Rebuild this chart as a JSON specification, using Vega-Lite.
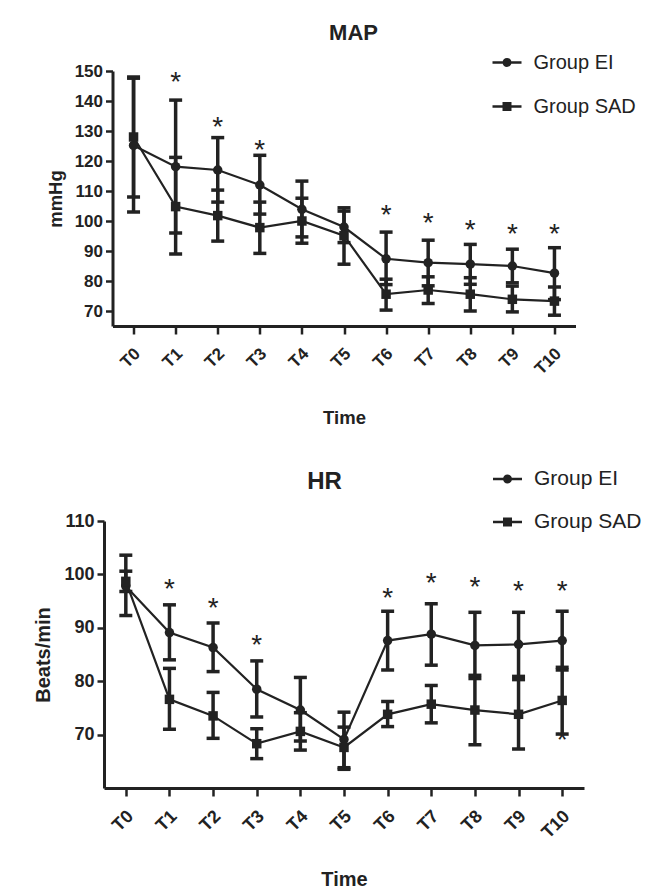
{
  "$schema": "https://vega.github.io/schema/vega-lite/v6.json",
  "padding": {"left": 33, "top": 22, "right": 5, "bottom": 2},
  "bounds": "flush",
  "center": true,
  "spacing": 195,
  "resolve": {"scale": {"shape": "independent"}, "legend": {"shape": "independent"}},
  "config": {
    "view": {"stroke": null},
    "font": "Liberation Sans",
    "axis": {"domainColor": "#222", "domainWidth": 3, "tickColor": "#222", "tickWidth": 2.5, "tickSize": 7, "labelOverlap": false, "labelFont": "Liberation Sans", "labelFontWeight": "bold", "labelColor": "#222", "titleFont": "Liberation Sans", "titleFontWeight": "bold", "titleColor": "#222", "grid": false},
    "legend": {"labelFont": "Liberation Sans", "labelColor": "#222"},
    "title": {"font": "Liberation Sans", "fontWeight": "bold", "color": "#222"}
  },
  "datasets": {
    "map": [
      {"time": "T0", "group": "Group EI", "mean": 125.2, "lo": 103.0, "hi": 147.6},
      {"time": "T0", "group": "Group SAD", "mean": 128.0, "lo": 108.0, "hi": 148.0},
      {"time": "T1", "group": "Group EI", "mean": 118.1, "lo": 96.0, "hi": 140.3},
      {"time": "T1", "group": "Group SAD", "mean": 104.8, "lo": 89.0, "hi": 121.2},
      {"time": "T2", "group": "Group EI", "mean": 117.0, "lo": 106.3, "hi": 127.8},
      {"time": "T2", "group": "Group SAD", "mean": 101.8, "lo": 93.3, "hi": 110.3},
      {"time": "T3", "group": "Group EI", "mean": 112.0, "lo": 102.3, "hi": 121.9},
      {"time": "T3", "group": "Group SAD", "mean": 97.8, "lo": 89.2, "hi": 106.3},
      {"time": "T4", "group": "Group EI", "mean": 103.9, "lo": 94.7, "hi": 113.3},
      {"time": "T4", "group": "Group SAD", "mean": 100.0, "lo": 92.6, "hi": 107.6},
      {"time": "T5", "group": "Group EI", "mean": 98.0, "lo": 92.8, "hi": 103.3},
      {"time": "T5", "group": "Group SAD", "mean": 95.1, "lo": 85.6, "hi": 104.4},
      {"time": "T6", "group": "Group EI", "mean": 87.4, "lo": 78.8, "hi": 96.3},
      {"time": "T6", "group": "Group SAD", "mean": 75.6, "lo": 70.3, "hi": 80.6},
      {"time": "T7", "group": "Group EI", "mean": 86.1, "lo": 78.4, "hi": 93.6},
      {"time": "T7", "group": "Group SAD", "mean": 77.0, "lo": 72.5, "hi": 81.4},
      {"time": "T8", "group": "Group EI", "mean": 85.6, "lo": 78.9, "hi": 92.2},
      {"time": "T8", "group": "Group SAD", "mean": 75.6, "lo": 70.0, "hi": 81.1},
      {"time": "T9", "group": "Group EI", "mean": 85.0, "lo": 79.4, "hi": 90.6},
      {"time": "T9", "group": "Group SAD", "mean": 73.9, "lo": 69.7, "hi": 78.3},
      {"time": "T10", "group": "Group EI", "mean": 82.6, "lo": 73.8, "hi": 91.1},
      {"time": "T10", "group": "Group SAD", "mean": 73.3, "lo": 68.6, "hi": 78.0}
    ],
    "mapstars": [
      {"time": "T1", "star": 148.1},
      {"time": "T2", "star": 133.1},
      {"time": "T3", "star": 125.3},
      {"time": "T6", "star": 103.7},
      {"time": "T7", "star": 100.9},
      {"time": "T8", "star": 98.7},
      {"time": "T9", "star": 97.4},
      {"time": "T10", "star": 97.4}
    ],
    "hr": [
      {"time": "T0", "group": "Group EI", "mean": 97.8, "lo": 92.3, "hi": 103.6},
      {"time": "T0", "group": "Group SAD", "mean": 98.7, "lo": 96.8, "hi": 100.6},
      {"time": "T1", "group": "Group EI", "mean": 89.1, "lo": 84.0, "hi": 94.3},
      {"time": "T1", "group": "Group SAD", "mean": 76.6, "lo": 71.0, "hi": 82.4},
      {"time": "T2", "group": "Group EI", "mean": 86.3, "lo": 81.8, "hi": 90.9},
      {"time": "T2", "group": "Group SAD", "mean": 73.5, "lo": 69.3, "hi": 77.9},
      {"time": "T3", "group": "Group EI", "mean": 78.5, "lo": 73.3, "hi": 83.8},
      {"time": "T3", "group": "Group SAD", "mean": 68.3, "lo": 65.5, "hi": 71.1},
      {"time": "T4", "group": "Group EI", "mean": 74.6, "lo": 68.8, "hi": 80.7},
      {"time": "T4", "group": "Group SAD", "mean": 70.6, "lo": 67.1, "hi": 74.1},
      {"time": "T5", "group": "Group EI", "mean": 69.1, "lo": 63.8, "hi": 74.2},
      {"time": "T5", "group": "Group SAD", "mean": 67.6, "lo": 63.5, "hi": 71.4},
      {"time": "T6", "group": "Group EI", "mean": 87.6, "lo": 82.1, "hi": 93.1},
      {"time": "T6", "group": "Group SAD", "mean": 73.8, "lo": 71.5, "hi": 76.2},
      {"time": "T7", "group": "Group EI", "mean": 88.8, "lo": 83.0, "hi": 94.5},
      {"time": "T7", "group": "Group SAD", "mean": 75.7, "lo": 72.2, "hi": 79.2},
      {"time": "T8", "group": "Group EI", "mean": 86.7, "lo": 80.5, "hi": 92.9},
      {"time": "T8", "group": "Group SAD", "mean": 74.6, "lo": 68.1, "hi": 81.1},
      {"time": "T9", "group": "Group EI", "mean": 86.9, "lo": 80.9, "hi": 92.9},
      {"time": "T9", "group": "Group SAD", "mean": 73.8, "lo": 67.3, "hi": 80.3},
      {"time": "T10", "group": "Group EI", "mean": 87.6, "lo": 82.1, "hi": 93.1},
      {"time": "T10", "group": "Group SAD", "mean": 76.4, "lo": 70.1, "hi": 82.6}
    ],
    "hrstars": [
      {"time": "T1", "star": 98.2},
      {"time": "T2", "star": 94.7},
      {"time": "T3", "star": 87.8},
      {"time": "T6", "star": 96.5},
      {"time": "T7", "star": 99.3},
      {"time": "T8", "star": 98.5},
      {"time": "T9", "star": 97.9},
      {"time": "T10", "star": 97.9},
      {"time": "T10", "star": 69.9}
    ]
  },
  "vconcat": [
    {
      "width": 463,
      "height": 255,
      "title": {"text": "MAP", "fontSize": 22, "frame": "group", "anchor": "middle", "dx": 9.5, "dy": 1},
      "data": {"name": "map"},
      "resolve": {"scale": {"shape": "independent"}, "legend": {"shape": "independent"}},
      "encoding": {
        "x": {"field": "time", "type": "ordinal", "sort": ["T0","T1","T2","T3","T4","T5","T6","T7","T8","T9","T10"], "scale": {"type": "point", "padding": 0.5},
          "axis": {"title": "Time", "labelAngle": -45, "labelFontSize": 17, "tickSize": 8, "labelPadding": 11, "labelOffset": -2, "titleFontSize": 18.5, "titleX": 231.5, "titleY": 91, "titleBaseline": "middle", "titleAlign": "center"}}
      },
      "layer": [
        {
          "mark": {"type": "rule", "strokeWidth": 3.5, "color": "#222"},
          "encoding": {
            "y": {"field": "lo", "type": "quantitative", "title": "mmHg", "scale": {"domain": [65, 150], "nice": false, "zero": false},
              "axis": {"values": [70, 80, 90, 100, 110, 120, 130, 140, 150], "tickCount": 9, "labelOverlap": false, "labelFontSize": 17, "labelPadding": 3, "titleFontSize": 18.5, "titleAngle": -90, "titleX": -57.5, "titleY": 127.5, "titleBaseline": "middle", "titleAlign": "center"}},
            "y2": {"field": "hi"}
          }
        },
        {
          "mark": {"type": "tick", "size": 13, "thickness": 3.5, "color": "#222", "opacity": 1},
          "encoding": {"y": {"field": "lo", "type": "quantitative", "title": "mmHg", "axis": {"values": [70, 80, 90, 100, 110, 120, 130, 140, 150], "tickCount": 9, "labelOverlap": false}}}
        },
        {
          "mark": {"type": "tick", "size": 13, "thickness": 3.5, "color": "#222", "opacity": 1},
          "encoding": {"y": {"field": "hi", "type": "quantitative", "title": "mmHg", "axis": {"values": [70, 80, 90, 100, 110, 120, 130, 140, 150], "tickCount": 9, "labelOverlap": false}}}
        },
        {
          "mark": {"type": "line", "strokeWidth": 2.2, "color": "#222"},
          "encoding": {"y": {"field": "mean", "type": "quantitative", "title": "mmHg", "axis": {"values": [70, 80, 90, 100, 110, 120, 130, 140, 150], "tickCount": 9, "labelOverlap": false}}, "detail": {"field": "group"}}
        },
        {
          "mark": {"type": "point", "filled": true, "size": 90, "color": "#222", "opacity": 1},
          "encoding": {
            "y": {"field": "mean", "type": "quantitative", "title": "mmHg", "axis": {"values": [70, 80, 90, 100, 110, 120, 130, 140, 150], "tickCount": 9, "labelOverlap": false}},
            "shape": {"field": "group", "type": "nominal", "scale": {"domain": ["Group EI", "Group SAD"], "range": ["circle", "square"]}, "legend": null}
          }
        },
        {
          "mark": {"type": "point", "filled": true, "size": 841, "color": "#222", "opacity": 0},
          "encoding": {
            "y": {"field": "mean", "type": "quantitative", "title": "mmHg", "axis": {"values": [70, 80, 90, 100, 110, 120, 130, 140, 150], "tickCount": 9, "labelOverlap": false}},
            "shape": {"field": "group", "type": "nominal", "scale": {"domain": ["Group EI", "Group SAD"], "range": ["M-1,-0.08H-0.3V0.08H-1ZM0.3,-0.08H1V0.08H0.3ZM-0.31,0A0.31,0.31 0 1,1 0.31,0A0.31,0.31 0 1,1 -0.31,0Z", "M-1,-0.08H-0.3V0.08H-1ZM0.3,-0.08H1V0.08H0.3ZM-0.31,-0.31H0.31V0.31H-0.31Z"]},
              "legend": {"title": null, "orient": "none", "legendX": 380, "legendY": -23, "padding": 0, "labelFontSize": 20, "labelOffset": 12, "rowPadding": 19, "symbolSize": 841, "symbolStrokeWidth": 0, "symbolFillColor": "#222", "symbolOpacity": 1}}
          }
        },
        {
          "data": {"name": "mapstars"},
          "mark": {"type": "text", "text": "*", "fontSize": 28, "dy": 6, "baseline": "middle", "font": "Liberation Sans", "color": "#222"},
          "encoding": {"y": {"field": "star", "type": "quantitative", "title": "mmHg", "axis": {"values": [70, 80, 90, 100, 110, 120, 130, 140, 150], "tickCount": 9, "labelOverlap": false}}}
        }
      ]
    },
    {
      "width": 480,
      "height": 267,
      "title": {"text": "HR", "fontSize": 24, "frame": "group", "anchor": "middle", "dx": -19.5, "dy": 33.7},
      "data": {"name": "hr"},
      "resolve": {"scale": {"shape": "independent"}, "legend": {"shape": "independent"}},
      "encoding": {
        "x": {"field": "time", "type": "ordinal", "sort": ["T0","T1","T2","T3","T4","T5","T6","T7","T8","T9","T10"], "scale": {"type": "point", "padding": 0.5},
          "axis": {"title": "Time", "labelAngle": -45, "labelFontSize": 18, "tickSize": 8, "labelPadding": 11, "labelOffset": -2, "titleFontSize": 20, "titleX": 240, "titleY": 91.5, "titleBaseline": "middle", "titleAlign": "center"}}
      },
      "layer": [
        {
          "mark": {"type": "rule", "strokeWidth": 3.5, "color": "#222"},
          "encoding": {
            "y": {"field": "lo", "type": "quantitative", "title": "Beats/min", "scale": {"domain": [60, 110], "nice": false, "zero": false},
              "axis": {"values": [70, 80, 90, 100, 110], "labelFontSize": 18, "labelPadding": 3, "titleFontSize": 20, "titleAngle": -90, "titleX": -60.5, "titleY": 133.5, "titleBaseline": "middle", "titleAlign": "center"}},
            "y2": {"field": "hi"}
          }
        },
        {
          "mark": {"type": "tick", "size": 13, "thickness": 3.5, "color": "#222", "opacity": 1},
          "encoding": {"y": {"field": "lo", "type": "quantitative", "title": "Beats/min"}}
        },
        {
          "mark": {"type": "tick", "size": 13, "thickness": 3.5, "color": "#222", "opacity": 1},
          "encoding": {"y": {"field": "hi", "type": "quantitative", "title": "Beats/min"}}
        },
        {
          "mark": {"type": "line", "strokeWidth": 2.2, "color": "#222"},
          "encoding": {"y": {"field": "mean", "type": "quantitative", "title": "Beats/min"}, "detail": {"field": "group"}}
        },
        {
          "mark": {"type": "point", "filled": true, "size": 90, "color": "#222", "opacity": 1},
          "encoding": {
            "y": {"field": "mean", "type": "quantitative", "title": "Beats/min"},
            "shape": {"field": "group", "type": "nominal", "scale": {"domain": ["Group EI", "Group SAD"], "range": ["circle", "square"]}, "legend": null}
          }
        },
        {
          "mark": {"type": "point", "filled": true, "size": 841, "color": "#222", "opacity": 0},
          "encoding": {
            "y": {"field": "mean", "type": "quantitative", "title": "Beats/min"},
            "shape": {"field": "group", "type": "nominal", "scale": {"domain": ["Group EI", "Group SAD"], "range": ["M-1,-0.08H-0.3V0.08H-1ZM0.3,-0.08H1V0.08H0.3ZM-0.31,0A0.31,0.31 0 1,1 0.31,0A0.31,0.31 0 1,1 -0.31,0Z", "M-1,-0.08H-0.3V0.08H-1ZM0.3,-0.08H1V0.08H0.3ZM-0.31,-0.31H0.31V0.31H-0.31Z"]},
              "legend": {"title": null, "orient": "none", "legendX": 389, "legendY": -56.5, "padding": 0, "labelFontSize": 21, "labelOffset": 12, "rowPadding": 18, "symbolSize": 841, "symbolStrokeWidth": 0, "symbolFillColor": "#222", "symbolOpacity": 1}}
          }
        },
        {
          "data": {"name": "hrstars"},
          "mark": {"type": "text", "text": "*", "fontSize": 28, "dy": 6, "baseline": "middle", "font": "Liberation Sans", "color": "#222"},
          "encoding": {"y": {"field": "star", "type": "quantitative", "title": "Beats/min"}}
        }
      ]
    }
  ]
}
